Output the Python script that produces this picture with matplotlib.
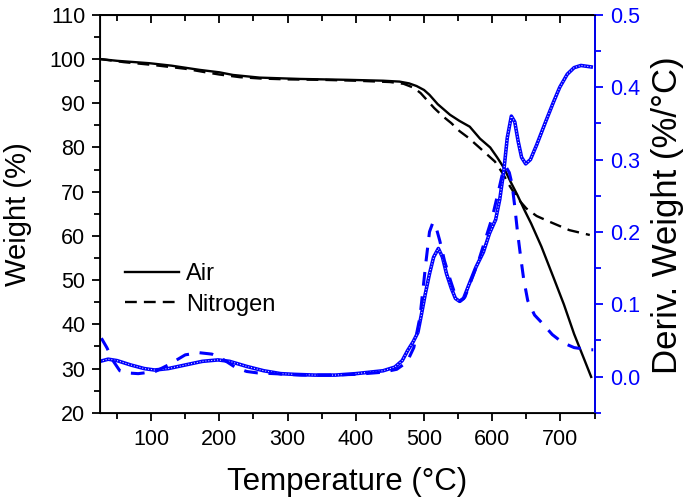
import matplotlib
matplotlib.use("Agg")
import matplotlib.pyplot as plt
from matplotlib.ticker import MultipleLocator

plt.rcParams['font.family'] = ['Liberation Sans', 'DejaVu Sans']

# TGA curves (weight %)
air_T = [25, 50, 98, 130, 171, 200, 220, 259, 318, 388, 440, 464, 478, 489, 500,
         508, 520, 538, 552, 567, 582, 597, 607, 617, 627, 637, 647, 657, 672,
         690, 705, 720, 735, 745]
air_W = [100.0, 99.6, 99.05, 98.5, 97.55, 97.0, 96.4, 95.8, 95.5, 95.3, 95.1, 94.9,
         94.5, 93.9, 93.0, 91.9, 89.8, 87.4, 86.0, 84.7, 82.0, 80.0, 77.8, 75.4,
         72.2, 69.2, 65.9, 62.8, 57.6, 50.5, 44.5, 37.8, 32.0, 28.1]

n2_T = [25, 60, 100, 150, 180, 200, 230, 260, 300, 350, 400, 450, 470, 485, 495,
        505, 515, 528, 540, 552, 565, 581, 604, 615, 626, 637, 650, 665, 684, 713, 743]
n2_W = [100.0, 99.3, 98.7, 97.8, 97.0, 96.5, 95.9, 95.6, 95.4, 95.3, 95.1, 94.8,
        94.4, 93.5, 92.3, 90.6, 88.9, 87.0, 85.5, 83.7, 82.2, 80.0, 76.8, 74.2,
        71.2, 68.5, 66.2, 64.5, 63.2, 61.3, 60.2]

# DTG curves (%/°C)
air_dT = [25, 37, 50, 70, 90, 105, 125, 150, 175, 198, 215, 240, 265, 290, 310, 340,
          370, 400, 420, 440, 457, 468, 476, 484, 491, 496, 502, 508, 514, 521, 527,
          533, 540, 546, 552, 558, 565, 576, 587, 596, 605, 611, 617, 622, 628, 633,
          638, 643, 649, 656, 665, 679, 690, 699, 710, 720, 730, 745]
air_D = [0.021, 0.024, 0.022, 0.016, 0.011, 0.009, 0.011, 0.016, 0.021, 0.023, 0.021,
         0.014, 0.008, 0.004, 0.003, 0.002, 0.002, 0.004, 0.006, 0.008, 0.013, 0.022,
         0.036, 0.048, 0.061, 0.085, 0.115, 0.142, 0.165, 0.177, 0.165, 0.142, 0.122,
         0.108, 0.104, 0.108, 0.125, 0.151, 0.172, 0.198, 0.217, 0.245, 0.285, 0.330,
         0.360, 0.352, 0.325, 0.303, 0.294, 0.300, 0.320, 0.354, 0.380, 0.400, 0.418,
         0.427, 0.430, 0.428]

n2_dT = [27, 35, 44, 54, 65, 81, 106, 125, 150, 170, 189, 205, 223, 240, 256, 280, 320,
         360, 400, 440, 460, 475, 485, 494, 503, 508, 513, 518, 523, 530, 538, 546,
         553, 560, 570, 580, 590, 600, 610, 616, 620, 625, 629, 633, 637, 641, 646,
         652, 662, 674, 688, 703, 720, 742, 748]
n2_D = [0.053, 0.040, 0.022, 0.008, 0.005, 0.004, 0.007, 0.016, 0.030, 0.033, 0.031,
        0.024, 0.013, 0.007, 0.005, 0.004, 0.002, 0.002, 0.003, 0.006, 0.010, 0.020,
        0.040, 0.082, 0.160, 0.200, 0.213, 0.205, 0.188, 0.160, 0.135, 0.112, 0.104,
        0.110, 0.135, 0.160, 0.190, 0.220, 0.260, 0.285, 0.290, 0.282, 0.266, 0.235,
        0.200, 0.170, 0.135, 0.105, 0.085, 0.073, 0.058, 0.047, 0.040, 0.037, 0.037]

BLUE = '#0000ff'

fig = plt.figure(figsize=(6.85, 5.03), dpi=100)
ax = fig.add_axes([0.146, 0.1795, 0.722, 0.791])

ax.plot(air_T, air_W, color='black', lw=1.7, label='Air')
ax.plot(n2_T, n2_W, color='black', lw=1.7, ls=(0, (5, 3)), label='Nitrogen')

ax.set_xlim(25, 750)
ax.set_ylim(20, 110)
ax.xaxis.set_major_locator(MultipleLocator(100))
ax.xaxis.set_minor_locator(MultipleLocator(50))
ax.yaxis.set_major_locator(MultipleLocator(10))
ax.yaxis.set_minor_locator(MultipleLocator(5))
ax.tick_params(which='both', direction='out', labelsize=15.5, width=1.3, right=False, top=False)
ax.tick_params(which='major', length=6)
ax.tick_params(which='minor', length=4)
ax.tick_params(axis='x', pad=6)
ax.tick_params(axis='y', pad=4.5)
ax.set_xlabel('Temperature (°C)', fontsize=22.5)
ax.set_ylabel('Weight (%)', fontsize=21)
ax.xaxis.set_label_coords(0.5, -0.137)
ax.yaxis.set_label_coords(-0.1375, 0.5)
for s in ax.spines.values():
    s.set_linewidth(1.3)

top = ax.secondary_xaxis('top')
top.xaxis.set_major_locator(MultipleLocator(100))
top.xaxis.set_minor_locator(MultipleLocator(50))
top.tick_params(which='both', direction='in', labeltop=False, width=1.3)
top.tick_params(which='major', length=6)
top.tick_params(which='minor', length=4)
top.spines['top'].set_linewidth(1.3)

ax.legend(loc='center left', bbox_to_anchor=(0.05, 0.31), frameon=False,
          fontsize=17, handlelength=2.3, handletextpad=0.3, labelspacing=0.35,
          borderpad=0, borderaxespad=0)

ax2 = ax.twinx()
ax2.plot(air_dT, air_D, color=BLUE, lw=2.6)
ax2.plot(air_dT, air_D, color='white', lw=0.7, ls=(0, (1, 2)))
ax2.plot(n2_dT, n2_D, color=BLUE, lw=2.2, ls=(0, (4.5, 3.5)))
ax2.set_ylim(-0.05, 0.5)
ax2.yaxis.set_major_locator(MultipleLocator(0.1))
ax2.yaxis.set_minor_locator(MultipleLocator(0.05))
ax2.tick_params(which='both', direction='out', colors=BLUE, labelsize=15.5, width=1.3, pad=5)
ax2.tick_params(which='major', length=6)
ax2.tick_params(which='minor', length=4)
ax2.spines['right'].set_color(BLUE)
ax2.spines['right'].set_linewidth(1.3)
ax2.set_ylabel('Deriv. Weight (%/°C)', fontsize=25, color='black')
ax2.yaxis.set_label_coords(1.115, 0.497)

fig.savefig('out.png', dpi=100)
